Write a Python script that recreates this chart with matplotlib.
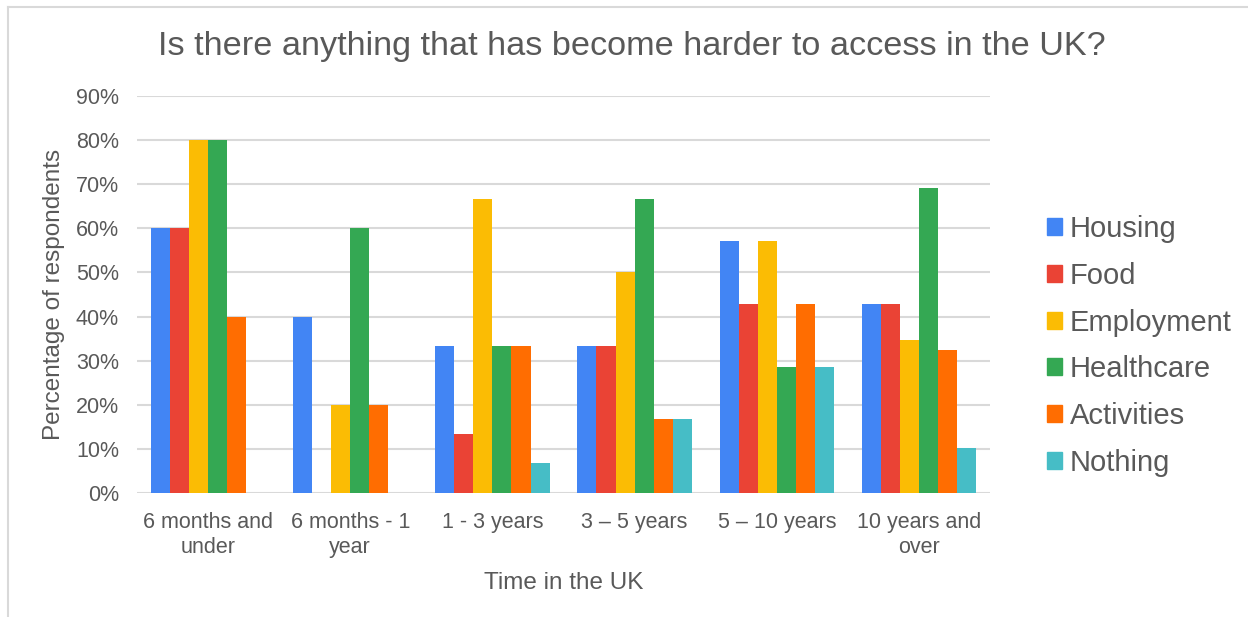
import numpy as np
import matplotlib.pyplot as plt
from matplotlib.lines import Line2D
from matplotlib.patches import Patch

plt.rcParams['font.family'] = ['Liberation Sans', 'DejaVu Sans']

# survey results, percentage of respondents per group
groups = ["6 months and\nunder", "6 months - 1\nyear", "1 - 3 years",
          "3 \u2013 5 years", "5 \u2013 10 years", "10 years and\nover"]
housing = [60, 40, 33.3, 33.3, 57.1, 42.9]
food = [60, 0, 13.3, 33.3, 42.9, 42.9]
employment = [80, 20, 66.7, 50, 57.1, 34.6]
healthcare = [80, 60, 33.3, 66.7, 28.6, 69.2]
activities = [40, 20, 33.3, 16.7, 42.9, 32.4]
nothing = [0, 0, 6.7, 16.7, 28.6, 10.2]

series = [("Housing", housing, "#4285f4"),
          ("Food", food, "#ea4335"),
          ("Employment", employment, "#fbbc04"),
          ("Healthcare", healthcare, "#34a853"),
          ("Activities", activities, "#ff6d01"),
          ("Nothing", nothing, "#46bdc6")]

txt = "#595959"

fig = plt.figure(figsize=(12.48, 6.17), dpi=100)
ax = fig.add_axes([137/1248, 1 - 493/617, (990-137)/1248, (493-96)/617])

x = np.arange(len(groups))
w = 0.134
for i, (name, vals, col) in enumerate(series):
    ax.bar(x + (i - 2.5) * w, vals, width=w, color=col, label=name, zorder=3)

ax.set_xlim(-0.5, len(groups) - 0.5)
ax.set_ylim(0, 90)
ax.set_yticks(np.arange(0, 91, 10))
ax.set_yticklabels(["%d%%" % v for v in range(0, 91, 10)])
ax.set_xticks(x)
ax.set_xticklabels(groups)
ax.tick_params(axis='both', length=0, labelsize=15.5, labelcolor=txt)
ax.tick_params(axis='y', pad=13)
ax.tick_params(axis='x', pad=14)
ax.yaxis.grid(True, color="#d9d9d9", linewidth=1.5, zorder=0)
for s in ax.spines.values():
    s.set_visible(False)

ax.set_xlabel("Time in the UK", fontsize=17.5, color=txt, labelpad=10)
ax.set_ylabel("Percentage of respondents", fontsize=17.5, color=txt, labelpad=8)

fig.text(632/1248, 1 - 47/617, "Is there anything that has become harder to access in the UK?",
         ha='center', va='center', fontsize=24.7, color=txt)

handles = [Patch(color=c, label=n) for n, v, c in series]
leg = fig.legend(handles=handles, loc='center left', bbox_to_anchor=(1021/1248, 1 - 346/617),
                 frameon=False, fontsize=21, labelcolor=txt, handlelength=0.52,
                 handleheight=0.52, handletextpad=0.25, labelspacing=0.64)

# outer frame on the top and left edges
fig.add_artist(Line2D([8/1248, 1], [1 - 7/617, 1 - 7/617], color="#d9d9d9", linewidth=1.5))
fig.add_artist(Line2D([8/1248, 8/1248], [0, 1 - 7/617], color="#d9d9d9", linewidth=1.5))

fig.savefig("out.png", dpi=100)
